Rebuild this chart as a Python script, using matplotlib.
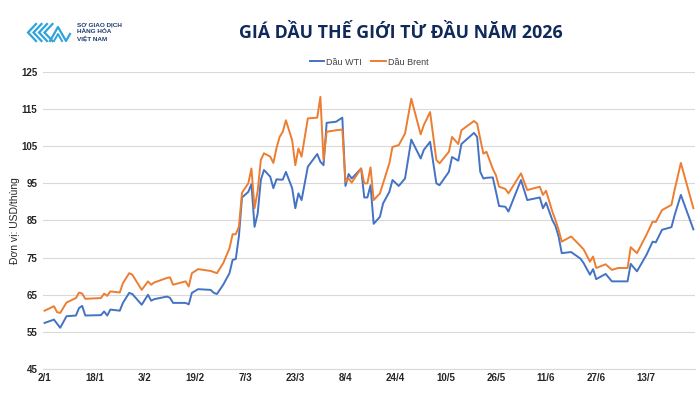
import matplotlib
matplotlib.use('Agg')
import matplotlib.pyplot as plt
from matplotlib.lines import Line2D
import pandas as pd

# ngày giao dịch (2026) và giá dầu
dates = ['01-02', '01-05', '01-06', '01-07', '01-09', '01-12', '01-13', '01-14', '01-15',
         '01-20', '01-21', '01-22', '01-23', '01-26', '01-27', '01-29', '01-30',
         '02-02', '02-04', '02-05', '02-06', '02-10', '02-11', '02-12', '02-16', '02-17',
         '02-18', '02-20', '02-24', '02-25', '02-26', '02-28',
         '03-02', '03-03', '03-04', '03-05', '03-06', '03-08', '03-09', '03-10', '03-11',
         '03-12', '03-13', '03-15', '03-16', '03-17', '03-18', '03-19', '03-20', '03-22',
         '03-23', '03-24', '03-25', '03-27', '03-30', '03-31',
         '04-01', '04-02', '04-05', '04-07', '04-08', '04-09', '04-10', '04-13', '04-14',
         '04-15', '04-16', '04-17', '04-19', '04-20', '04-22', '04-23', '04-25', '04-27', '04-29',
         '05-02', '05-03', '05-05', '05-07', '05-08', '05-11', '05-12', '05-14', '05-15',
         '05-19', '05-20', '05-21', '05-22', '05-23', '05-25', '05-26', '05-27', '05-29', '05-30',
         '06-03', '06-05', '06-09', '06-10', '06-11', '06-13', '06-14', '06-15', '06-16',
         '06-19', '06-22', '06-23', '06-25', '06-26', '06-27', '06-30',
         '07-02', '07-04', '07-07', '07-08', '07-10', '07-13', '07-15', '07-16', '07-18',
         '07-21', '07-22', '07-24', '07-28']

wti = [57.4, 58.3, 57.2, 56.1, 59.2, 59.4, 61.4, 62.0, 59.4,
       59.5, 60.5, 59.4, 61.0, 60.7, 62.8, 65.5, 65.2,
       62.3, 65.0, 63.4, 63.8, 64.5, 64.2, 62.8, 62.8, 62.4,
       65.5, 66.5, 66.3, 65.5, 65.2, 67.7,
       70.8, 74.4, 74.6, 80.7, 91.2, 92.7, 94.8, 83.3, 86.9,
       95.9, 98.6, 96.8, 93.7, 96.1, 96.0, 96.0, 98.1, 93.7,
       88.3, 92.3, 90.5, 99.5, 102.9, 100.8,
       99.9, 111.3, 111.6, 112.7, 94.3, 97.5, 96.3, 99.0, 91.2,
       91.2, 94.5, 84.1, 86.0, 89.6, 92.7, 95.9, 94.3, 96.3, 106.8,
       101.7, 104.0, 106.2, 95.0, 94.5, 98.1, 102.1, 101.1, 105.6,
       108.6, 107.5, 98.1, 96.3, 96.5, 96.6, 92.8, 88.9, 88.7, 87.4,
       95.9, 90.5, 91.2, 88.3, 89.8, 85.1, 83.5, 80.7, 76.2,
       76.5, 74.7, 73.5, 70.4, 71.9, 69.2, 70.6,
       68.6, 68.6, 68.6, 73.3, 71.3, 75.7, 79.3, 79.1, 82.5,
       83.2, 86.4, 91.9, 82.6]

brent = [60.7, 61.9, 60.3, 60.1, 62.9, 64.1, 65.6, 65.3, 63.9,
         64.1, 65.3, 64.7, 65.9, 65.6, 68.1, 70.8, 70.4,
         66.3, 68.6, 67.7, 68.3, 69.5, 69.7, 67.7, 68.6, 67.2,
         70.8, 71.9, 71.4, 71.1, 70.8, 73.5,
         77.5, 81.3, 81.3, 83.3, 92.5, 95.0, 99.0, 88.3, 93.0,
         101.3, 103.1, 102.2, 100.5, 104.5, 107.5, 108.9, 112.0, 106.6,
         99.9, 104.4, 102.2, 112.5, 112.7, 118.3,
         101.3, 108.9, 109.3, 109.5, 95.4, 96.3, 95.2, 99.0, 95.0,
         95.0, 99.3, 90.5, 92.3, 95.0, 100.4, 104.8, 105.3, 108.4, 117.8,
         108.2, 110.7, 114.2, 101.3, 100.4, 103.5, 107.5, 105.6, 109.3,
         111.8, 111.1, 107.0, 103.0, 103.5, 98.9, 97.2, 94.1, 93.5, 92.3,
         97.7, 93.2, 94.1, 91.9, 93.0, 87.4, 85.1, 82.5, 79.3,
         80.7, 78.1, 77.2, 73.9, 75.3, 72.2, 73.2,
         71.7, 72.2, 72.2, 77.8, 76.2, 81.1, 84.7, 84.6, 87.8,
         89.2, 93.2, 100.5, 88.3]

yticks = [45, 55, 65, 75, 85, 95, 105, 115, 125]

x = pd.to_datetime(['2026-' + d for d in dates])

plt.rcParams['font.family'] = ['Liberation Sans', 'DejaVu Sans']

fig = plt.figure(figsize=(7, 3.94), dpi=100)
ax = fig.add_axes([0.0614, 0.0635, 0.9314, 0.7538])

ax.plot(x, wti, color='#4472c4', lw=1.4, label='Dầu WTI')
ax.plot(x, brent, color='#ed7d31', lw=1.4, label='Dầu Brent')

ax.set_ylim(45, 125)
ax.set_yticks(yticks)
x0 = pd.Timestamp('2026-01-02')
ax.set_xlim(x0 - pd.Timedelta(hours=12), pd.Timestamp('2026-07-28') + pd.Timedelta(hours=12))
xt = [x0 + pd.Timedelta(days=16 * i) for i in range(13)]
ax.set_xticks(xt)
ax.set_xticklabels([f'{t.day}/{t.month}' for t in xt])

ax.grid(axis='y', color='#d9d9d9', lw=0.8)
ax.set_axisbelow(True)
for s in ['top', 'right', 'left']:
    ax.spines[s].set_visible(False)
ax.spines['bottom'].set_color('#d9d9d9')
ax.tick_params(length=0, labelsize=7, colors='#262626', pad=4)
ax.tick_params(axis='x', pad=3)
for lab in ax.get_xticklabels() + ax.get_yticklabels():
    lab.set_fontweight('bold')
ax.set_ylabel('Đơn vị: USD/thùng', fontsize=7.5, color='#262626', labelpad=1)

ax.legend(loc='lower center', bbox_to_anchor=(0.5, 1.0), ncol=2, frameon=False,
          fontsize=6.5, handlelength=1.6, handletextpad=0.2, columnspacing=1.1,
          borderaxespad=0.2, labelcolor='#404040')

# tiêu đề
fig.text(0.572, 0.915, 'GIÁ DẦU THẾ GIỚI TỪ ĐẦU NĂM 2026', ha='center', va='center',
         fontsize=12.8, fontweight='bold', color='#0f2a5a', family=['Open Sans', 'DejaVu Sans'])

# logo
W, H = 700.0, 394.0
def fl(xs, ys, **kw):
    fig.add_artist(Line2D([v / W for v in xs], [1 - v / H for v in ys], transform=fig.transFigure, **kw))
for k in range(4):
    o = k * 5.5
    fl([36 + o, 28 + o, 36 + o], [24, 32.5, 41], color='#2ea3dc', lw=1.6, solid_joinstyle='miter')
fl([50, 58, 66, 70], [41, 27, 41, 34], color='#2ea3dc', lw=1.6)
fl([54, 58, 62], [41, 34, 41], color='#2ea3dc', lw=1.4)
for i, t in enumerate(['SỞ GIAO DỊCH', 'HÀNG HÓA', 'VIỆT NAM']):
    fig.text(77 / W, 1 - (25.5 + i * 6.2) / H, t, fontsize=4.6, fontweight='bold',
             color='#1f3b73', va='center', ha='left')

fig.savefig('out.png', dpi=100, facecolor='white')
